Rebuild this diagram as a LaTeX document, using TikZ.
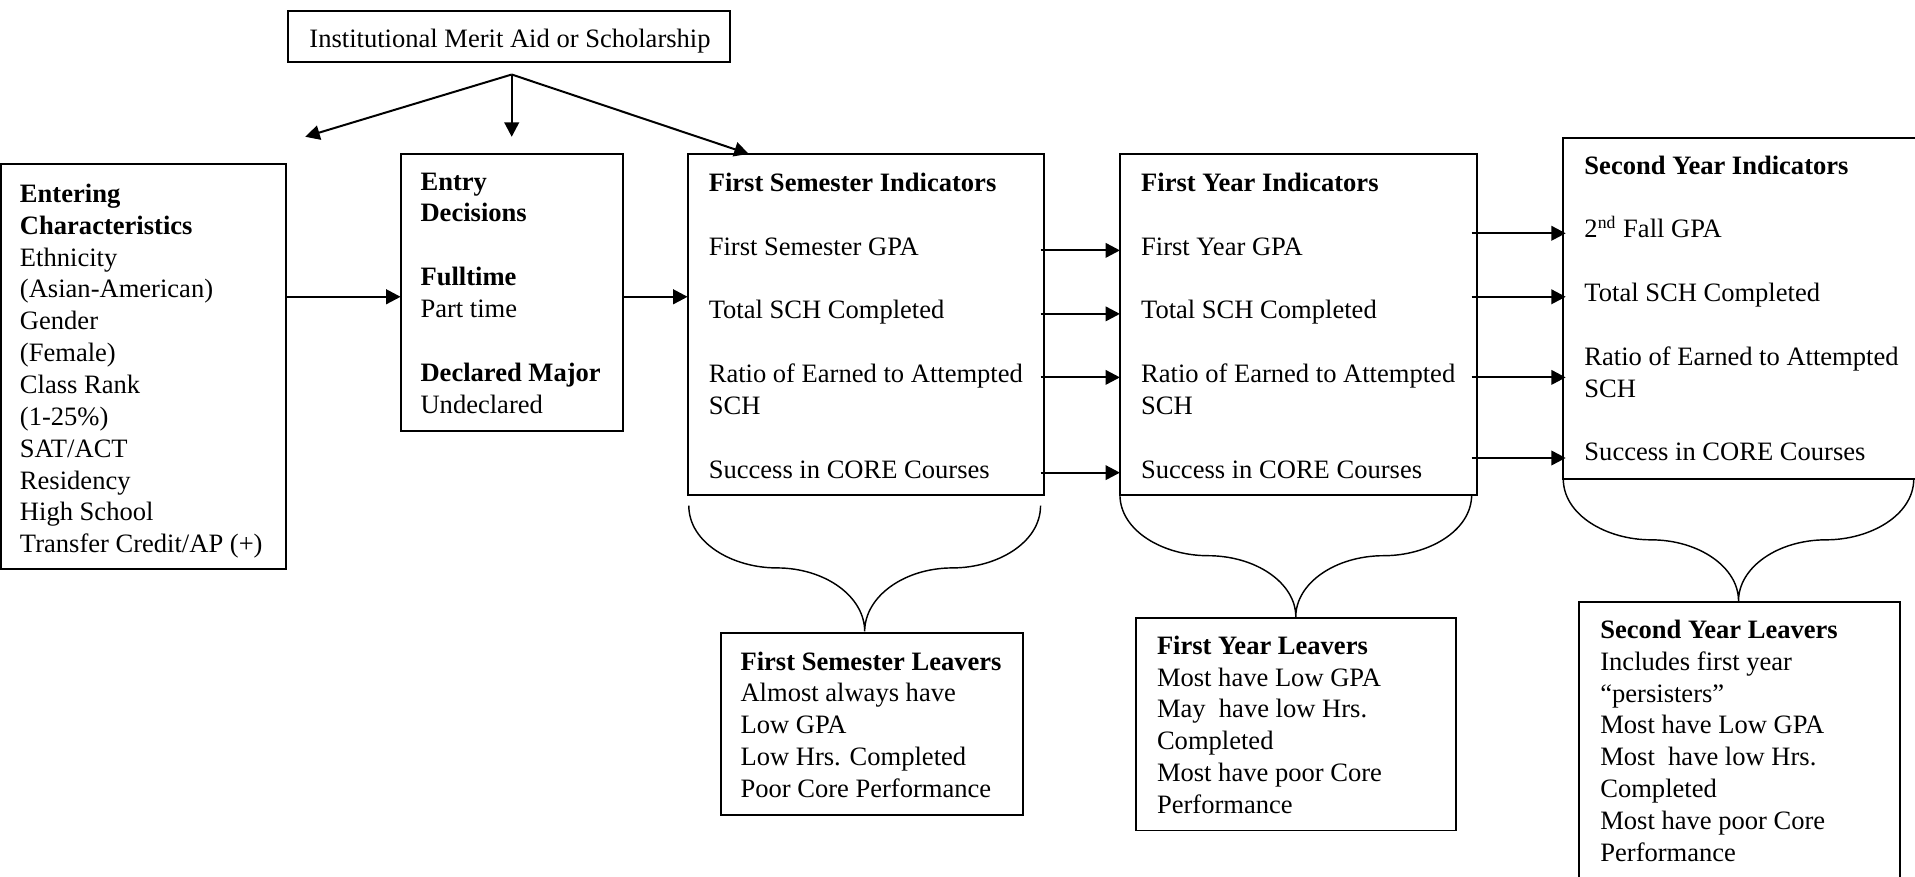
\documentclass[tikz,border=0pt]{standalone}
\usepackage{fontspec}
\setmainfont{Liberation Serif}
\usetikzlibrary{arrows.meta}
\newcommand\pxbox[5]{\node[box,minimum width={(#4-#2)*0.552pt},minimum height={(#5-#3)*0.552pt}] (#1) at (#2,#3) {};}
\newcommand\bracepath[5]{% left, right, top, mid, point
  \draw[brace] (#1,#3) .. controls (#1,{#3+0.6*(#4-#3)}) and ({#1+0.5*((#2-#1)/4)},#4) .. ({(3*#1+#2)/4},#4)
     .. controls ({(3*#1+#2)/4+0.55*((#2-#1)/4)},#4) and ({(#1+#2)/2},{#4+0.45*(#5-#4)}) .. ({(#1+#2)/2},#5)
     .. controls ({(#1+#2)/2},{#4+0.45*(#5-#4)}) and ({(#1+3*#2)/4-0.55*((#2-#1)/4)},#4) .. ({(#1+3*#2)/4},#4)
     .. controls ({#2-0.5*((#2-#1)/4)},#4) and (#2,{#3+0.6*(#4-#3)}) .. (#2,#3);}
\begin{document}
\begin{tikzpicture}[x=0.552pt,y=-0.552pt,
  box/.style={draw,line width=0.9pt,anchor=north west,inner sep=0pt,outer sep=0pt},
  txt/.style={anchor=north west,inner sep=0pt,align=left,font=\fontsize{12}{14.4}\selectfont},
  arr/.style={line width=0.9pt,-{Triangle[length=6.5pt,width=6.6pt]}},
  brace/.style={line width=0.65pt}]
\useasboundingbox (0,0) rectangle (1568,718);

% boxes
\pxbox{top}{236}{9}{598}{51}
\pxbox{ent}{1}{134}{234}{466}
\pxbox{entry}{328}{126}{510}{353}
\pxbox{fs}{563}{126}{855}{405}
\pxbox{fy}{917}{126}{1209}{405}
\pxbox{sy}{1280}{113}{1572}{392}
\pxbox{fsl}{590}{518}{838}{667}
\pxbox{fyl}{930}{506}{1192}{680}
\pxbox{syl}{1293}{493}{1556}{730}

% texts
\node[txt] (top-t) at (253,20) {\strut Institutional Merit Aid or Scholarship};
\node[txt] (ent-t) at (16,147) {\strut\textbf{Entering}\\\textbf{Characteristics}\\Ethnicity\\(Asian-American)\\Gender\\(Female)\\Class Rank\\(1-25\%)\\SAT/ACT\\Residency\\High School\\Transfer Credit/AP (+)};
\node[txt] (entry-t) at (344,137) {\strut\textbf{Entry}\\\textbf{Decisions}\\[14.4pt]\textbf{Fulltime}\\Part time\\[14.4pt]\textbf{Declared Major}\\Undeclared};
\node[txt] (fs-t) at (580,138) {\strut\textbf{First Semester Indicators}\\[14.4pt]First Semester GPA\\[14.4pt]Total SCH Completed\\[14.4pt]Ratio of Earned to Attempted\\SCH\\[14.4pt]Success in CORE Courses};
\node[txt] (fy-t) at (934,138) {\strut\textbf{First Year Indicators}\\[14.4pt]First Year GPA\\[14.4pt]Total SCH Completed\\[14.4pt]Ratio of Earned to Attempted\\SCH\\[14.4pt]Success in CORE Courses};
\node[txt] (sy-t) at (1297,124) {\strut\textbf{Second Year Indicators}\\[14.4pt]2\textsuperscript{nd} Fall GPA\\[14.4pt]Total SCH Completed\\[14.4pt]Ratio of Earned to Attempted\\SCH\\[14.4pt]Success in CORE Courses};
\node[txt] (fsl-t) at (606,530) {\strut\textbf{First Semester Leavers}\\Almost always have\\Low GPA\\Low Hrs. Completed\\Poor Core Performance};
\node[txt] (fyl-t) at (947,517) {\strut\textbf{First Year Leavers}\\Most have Low GPA\\May\ \ have low Hrs.\\Completed\\Most have poor Core\\Performance};
\node[txt] (syl-t) at (1310,504) {\strut\textbf{Second Year Leavers}\\Includes first year\\“persisters”\\Most have Low GPA\\Most\ \ have low Hrs.\\Completed\\Most have poor Core\\Performance};

% top arrows
\coordinate (apex) at (419,61);
\coordinate (endL) at (250,112);
\coordinate (endM) at (419,112);
\coordinate (endR) at (613,126);
\draw[arr] (apex) -- (endL);
\draw[arr] (apex) -- (endM);
\draw[arr] (apex) -- (endR);

% horizontal arrows
\draw[arr] (ent.east |- 0,243) -- (entry.west |- 0,243);
\draw[arr] (entry.east |- 0,243) -- (fs.west |- 0,243);
\foreach \yy in {205,257,309,387}{
  \draw[arr] ([xshift=-3*0.552pt]fs.east |- 0,\yy) -- (fy.west |- 0,\yy);}
\foreach \yy in {191,243,309,375}{
  \draw[arr] ([xshift=-4*0.552pt]fy.east |- 0,\yy) -- ([xshift=2*0.552pt]sy.west |- 0,\yy);}

% braces
\bracepath{564}{852}{414}{465}{517}
\bracepath{917}{1205}{405}{455}{505}
\bracepath{1280}{1567}{392}{442}{492}
\end{tikzpicture}
\end{document}
